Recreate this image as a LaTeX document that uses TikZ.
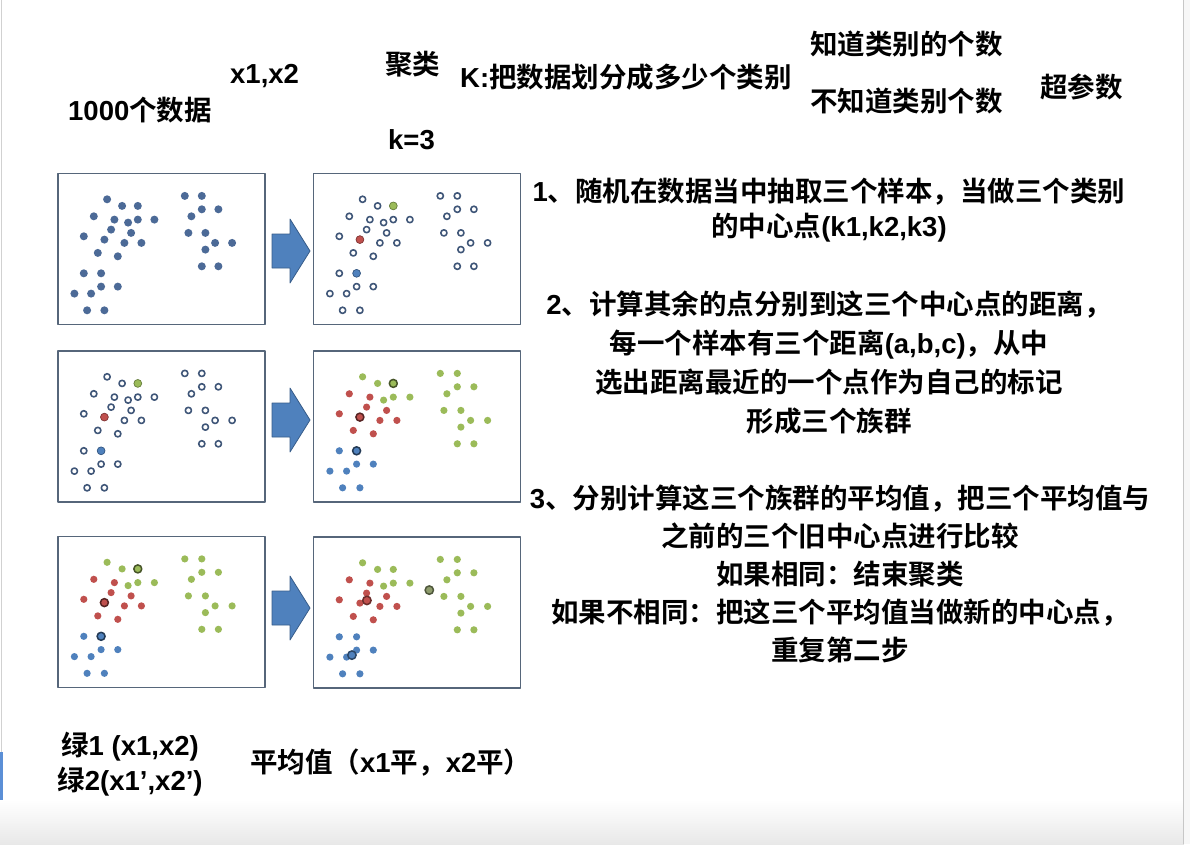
\documentclass[tikz,border=0pt]{standalone}
\usepackage{fontspec}
\setmainfont{Liberation Sans}
\newfontfamily\latinfont{Liberation Sans}
\newfontfamily\cjkfont{Noto Sans CJK SC}[BoldFont={Noto Sans CJK SC Bold}]
% ideographs and full-width punctuation go to the CJK face
\XeTeXinterchartokenstate=1
\newXeTeXintercharclass\cjkclass
\count255="20
\loop\XeTeXcharclass\count255=0
  \advance\count255 by 1
  \ifnum\count255<"3000 \repeat
\count255="3000
\loop\XeTeXcharclass\count255=\cjkclass
  \advance\count255 by 1
  \ifnum\count255<"A000 \repeat
\count255="FF00
\loop\XeTeXcharclass\count255=\cjkclass
  \advance\count255 by 1
  \ifnum\count255<"FFF0 \repeat
\XeTeXinterchartoks 0 \cjkclass={\cjkfont}
\XeTeXinterchartoks 4095 \cjkclass={\cjkfont}
\XeTeXinterchartoks \cjkclass 0={\latinfont}
\XeTeXinterchartoks \cjkclass 4095={\latinfont}
\usetikzlibrary{arrows.meta}
\definecolor{panelline}{HTML}{56667A}
\definecolor{dotdark}{HTML}{4C6A97}
\definecolor{ringline}{HTML}{3F5678}
\definecolor{grpG}{HTML}{9BBB59}
\definecolor{grpR}{HTML}{C0504D}
\definecolor{grpB}{HTML}{4F81BD}
\definecolor{grpN}{HTML}{8E9C6C}
\definecolor{arrowfill}{HTML}{4F81BD}
\definecolor{arrowline}{HTML}{385D8A}
\definecolor{lefttab}{HTML}{5B8FD6}

\begin{document}
\begin{tikzpicture}[x=1pt,y=-1pt,line join=round,line cap=round,
  every node/.style={inner sep=0pt,font=\fontsize{27.5}{38}\selectfont\bfseries},
  panel/.style={draw=panelline,line width=1.8pt,fill=white,
    minimum width=207pt,minimum height=151pt},
  ring/.style={draw=ringline,line width=1.6pt,fill=white},
  bigarrow/.style={fill=arrowfill,draw=arrowline,line width=0.8pt}]
\useasboundingbox (0,0) rectangle (1190,844);

% ---- screen edges ----
\fill[white] (0,0) rectangle (1190,844);
\shade[top color=white,bottom color=black!9] (0,800) rectangle (1183,844);
\fill[black!3] (1183,0) rectangle (1190,844);
\draw[black!22,line width=1pt] (1183,0) -- (1183,844);
\draw[black!18,line width=1pt] (1.5,0) -- (1.5,752);
\fill[lefttab] (0,752) rectangle (3,800);

% ---- the 36 points, with the cluster they end up in ----
\def\kdata{50/26.7/G, 65/33.3/G, 80.7/33.3/G, 36.7/43.7/R, 57.3/47/R, 71/50/G,
  80.7/47/G, 97.3/47/G, 54/57/R, 74/60.3/R, 26.7/63.7/R, 47.3/67/R,
  67.3/70.3/R, 84.3/70.3/R, 40.7/80.3/R, 60.7/83.7/R, 26.7/100.7/B, 44/100.7/B,
  44/114/B, 60.7/114/B, 17.3/121/B, 34/121/B, 30/137.7/B, 47.3/137.7/B,
  127.7/23.3/G, 144.7/23.3/G, 144.7/36.7/G, 161.3/36.7/G, 134.3/43.7/G,
  131.3/60.3/G, 148.3/60.3/G, 158/70.3/G, 175/70.3/G, 148.3/77/G,
  144.7/93.7/G, 161.3/93.7/G}
\def\kcentres{80.7/33.3/G, 47.3/67/R, 44/100.7/B}

% ---- panels ----
\foreach \n/\cx/\cy in {p1/161.5/249, p2/417/249, p3/161.5/426.5,
                        p4/417/426.5, p5/161.5/612, p6/417/612.5}
  \node[panel] (\n) at (\cx,\cy) {};

% raw data
\begin{scope}[shift={(p1.north west)}]
  \foreach \x/\y/\c in \kdata \fill[dotdark] (\x,\y) circle[radius=4];
\end{scope}

% three random centres
\foreach \p in {p2,p3}{
  \begin{scope}[shift={(\p.north west)}]
    \foreach \x/\y/\c in \kdata \draw[ring] (\x,\y) circle[radius=3.1];
    \foreach \x/\y/\c in \kcentres
      \fill[grp\c,draw=grp\c!70!black,line width=0.7pt] (\x,\y) circle[radius=3.9];
  \end{scope}}

% points given to the nearest centre
\foreach \p in {p4,p5}{
  \begin{scope}[shift={(\p.north west)}]
    \foreach \x/\y/\c in \kdata \fill[grp\c] (\x,\y) circle[radius=3.6];
    \foreach \x/\y/\c in \kcentres
      \draw[grp\c!45!black,fill=grp\c,line width=1.5pt] (\x,\y) circle[radius=4];
  \end{scope}}

% new centres from the means
\begin{scope}[shift={(p6.north west)}]
  \foreach \x/\y/\c in \kdata \fill[grp\c] (\x,\y) circle[radius=3.6];
  \foreach \x/\y/\c in {54.3/64.3/R, 39.3/119/B, 116.7/54/N}
    \draw[grp\c!55!black,fill=grp\c,line width=1.5pt] (\x,\y) circle[radius=4.2];
\end{scope}

% ---- block arrows ----
\foreach \ay [count=\i] in {251,420,608}{
  \coordinate (arr\i) at (272,\ay);
  \filldraw[bigarrow,shift={(arr\i)}] (0,-17) -- (18,-17) -- (18,-32) -- (38,0)
    -- (18,32) -- (18,17) -- (0,17) -- cycle;}

% ---- top line ----
\node[anchor=west] (ndata) at (68,110) {1000个数据};
\node[anchor=west] (nvars) at (230,76) {x1,x2};
\node[anchor=west] (ncluster) at (385,64) {聚类};
\node[anchor=west] (nk) at (460,77) {K:把数据划分成多少个类别};
\node[anchor=west] (nkval) at (388,140) {k=3};
\node[anchor=west] (nknown) at (810,44) {知道类别的个数};
\node[anchor=west] (nunknown) at (810,101) {不知道类别个数};
\node[anchor=west] (nhyper) at (1040,87) {超参数};

% ---- the steps ----
\node[align=center,font=\fontsize{27.5}{35}\selectfont\bfseries] (step1) at (829,210.5)
  {1、随机在数据当中抽取三个样本，当做三个类别\\的中心点(k1,k2,k3)};
\node[align=center,font=\fontsize{27.5}{39}\selectfont\bfseries] (step2) at (829,363)
  {2、计算其余的点分别到这三个中心点的距离，\\每一个样本有三个距离(a,b,c)，从中\\
   选出距离最近的一个点作为自己的标记\\形成三个族群};
\node[align=center] (step3) at (840,574)
  {3、分别计算这三个族群的平均值，把三个平均值与\\之前的三个旧中心点进行比较\\
   如果相同：结束聚类\\如果不相同：把这三个平均值当做新的中心点，\\重复第二步};

% ---- bottom notes ----
\node[align=center,font=\fontsize{27.5}{35}\selectfont\bfseries] (ngreen) at (130,764)
  {绿1 (x1,x2)\\绿2(x1’,x2’)};
\node[anchor=west] (nmean) at (250,763) {平均值（x1平，x2平）};
\end{tikzpicture}
\end{document}
